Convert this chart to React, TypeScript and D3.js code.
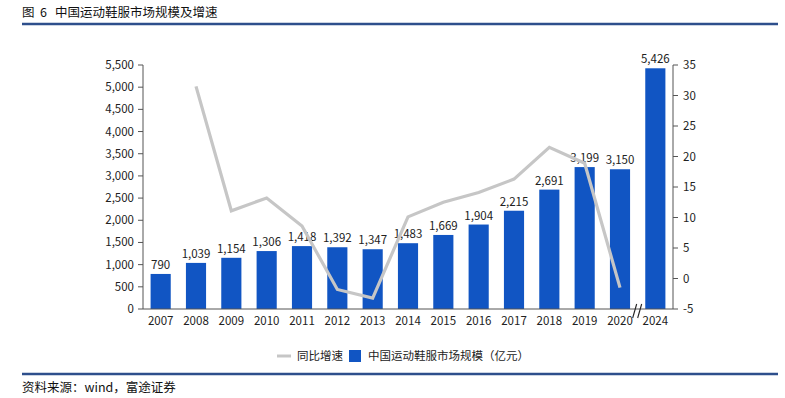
import React from 'react';
import * as d3 from 'd3';

const years = ['2007', '2008', '2009', '2010', '2011', '2012', '2013', '2014', '2015', '2016', '2017', '2018', '2019', '2020', '2024'];
const marketSize = [790, 1039, 1154, 1306, 1418, 1392, 1347, 1483, 1669, 1904, 2215, 2691, 3199, 3150, 5426];
// YoY growth (%), none for 2007 and the 2024 forecast
const growth: (number | null)[] = [null, 31.5, 11.1, 13.2, 8.6, -1.8, -3.2, 10.1, 12.5, 14.1, 16.3, 21.5, 18.9, -1.5, null];
const leftTicks = [0, 500, 1000, 1500, 2000, 2500, 3000, 3500, 4000, 4500, 5000, 5500];
const rightTicks = [-5, 0, 5, 10, 15, 20, 25, 30, 35];

const FONT = '"Microsoft YaHei", "Noto Sans CJK SC", "DejaVu Sans", sans-serif';
const BAR = '#1155c3';
const LINE = '#c6c6c6';
const RULE = '#2e4f8c';

export default function App() {
  const width = 785;
  const height = 398;
  const left = 143;
  const right = 673;
  const top = 65;
  const bottom = 309;

  const x = d3.scaleBand<string>().domain(years).range([left, right]).paddingInner(0.43).paddingOuter(0.215);
  const yL = d3.scaleLinear().domain([0, 5500]).range([bottom, top]);
  const yR = d3.scaleLinear().domain([-5, 35]).range([bottom, top]);
  const fmt = d3.format(',');

  const line = d3.line<number | null>()
    .defined(d => d !== null)
    .x((_, i) => (x(years[i]) as number) + x.bandwidth() / 2)
    .y(d => yR(d as number));

  const breakX = ((x('2020') as number) + x.bandwidth() + (x('2024') as number)) / 2;

  return (
    <svg width={width} height={height} style={{ position: 'absolute', left: 0, top: 0, background: '#fff' }} fontFamily={FONT}>
      <text x={22} y={17} fontSize={12.5} fill="#111">图</text>
      <text x={40} y={17} fontSize={12.5} fill="#111">6</text>
      <text x={55} y={17} fontSize={12.5} fill="#111">中国运动鞋服市场规模及增速</text>
      <line x1={22} x2={778} y1={24} y2={24} stroke={RULE} strokeWidth={2.5} />

      {marketSize.map((v, i) => (
        <g key={years[i]}>
          <rect x={x(years[i])} y={yL(v)} width={x.bandwidth()} height={bottom - yL(v)} fill={BAR} />
          <text x={(x(years[i]) as number) + x.bandwidth() / 2} y={yL(v) - 5} fontSize={11.5} textAnchor="middle" fill="#222">{fmt(v)}</text>
        </g>
      ))}

      <path d={line(growth) || ''} fill="none" stroke={LINE} strokeWidth={3.2} />

      {/* left axis */}
      <line x1={left} x2={left} y1={top} y2={bottom} stroke="#555" />
      {leftTicks.map(t => (
        <g key={t}>
          <line x1={left - 5} x2={left} y1={yL(t)} y2={yL(t)} stroke="#555" />
          <text x={left - 9} y={yL(t)} dy="0.35em" fontSize={11.5} textAnchor="end" fill="#222">{fmt(t)}</text>
        </g>
      ))}

      {/* right axis */}
      <line x1={right} x2={right} y1={top} y2={bottom} stroke="#555" />
      {rightTicks.map(t => (
        <g key={t}>
          <line x1={right} x2={right + 5} y1={yR(t)} y2={yR(t)} stroke="#555" />
          <text x={right + 10} y={yR(t)} dy="0.35em" fontSize={11.5} textAnchor="start" fill="#222">{t}</text>
        </g>
      ))}

      {/* x axis */}
      <line x1={left} x2={right} y1={bottom} y2={bottom} stroke="#555" />
      {years.map(yr => (
        <text key={yr} x={(x(yr) as number) + x.bandwidth() / 2} y={bottom + 16} fontSize={11.5} textAnchor="middle" fill="#222">{yr}</text>
      ))}
      <g stroke="#222" strokeWidth={1.1}>
        <line x1={breakX - 5} x2={breakX - 1} y1={bottom + 9} y2={bottom - 5} />
        <line x1={breakX} x2={breakX + 4} y1={bottom + 9} y2={bottom - 5} />
      </g>

      {/* legend */}
      <line x1={277} x2={291} y1={356} y2={356} stroke={LINE} strokeWidth={3} />
      <text x={297} y={356} dy="0.35em" fontSize={11.5} fill="#222">同比增速</text>
      <rect x={349} y={350} width={12} height={12} fill={BAR} />
      <text x={368} y={356} dy="0.35em" fontSize={11.5} fill="#222">中国运动鞋服市场规模（亿元）</text>

      <line x1={22} x2={778} y1={374} y2={374} stroke={RULE} strokeWidth={2.5} />
      <text x={22} y={392} fontSize={12.5} fill="#111">资料来源：wind，富途证券</text>
    </svg>
  );
}
